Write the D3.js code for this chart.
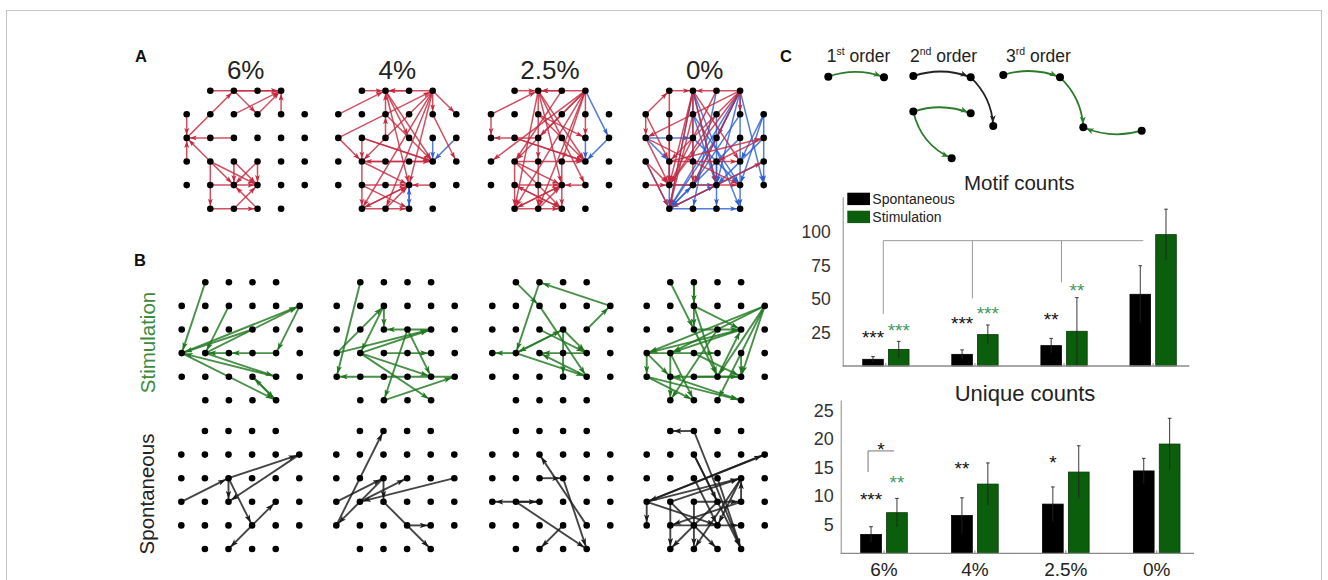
<!DOCTYPE html>
<html>
<head>
<meta charset="utf-8">
<script src="https://cdn.jsdelivr.net/npm/d3@7"></script>
<style>
body { margin: 0; background: #fff; }
text { font-family: "Liberation Sans", Arial, Helvetica, sans-serif; }
</style>
</head>
<body>
<script>
// ---------- data ----------
const percentLabels = ["6%", "4%", "2.5%", "0%"];
const seriesNames = ["Spontaneous", "Stimulation"];

// network edges: [fromCol, fromRow, toCol, toRow]
const redEdges = [
  [[1,0,4,0],[2,0,4,0],[2,0,3,1],[3,1,4,0],[2,1,4,0],[4,1,4,0],[0,2,2,0],[0,1,0,2],[2,2,0,2],[0,3,0,2],[1,3,0,2],
   [1,3,3,4],[1,3,2,4],[2,3,3,4],[3,3,2,4],[3,3,3,4],[2,3,2,4],[1,3,1,5],[1,4,3,4],[1,5,3,5],[2,5,3,4],[3,5,2,4]],
  [[1,0,2,0],[4,0,2,0],[3,0,2,0],[2,1,2,0],[0,1,2,0],[2,2,2,1],[0,2,4,0],[2,0,4,3],[2,0,3,4],[2,1,4,3],[4,0,1,5],
   [4,0,2,5],[4,0,1,3],[4,0,4,1],[4,0,5,1],[4,1,5,3],[0,2,1,3],[1,2,4,3],[1,2,4,3],[1,2,1,3],[1,3,4,3],[4,3,1,3],
   [1,3,1,5],[1,4,3,4],[4,4,3,4],[1,5,3,4],[3,4,1,5],[1,5,3,5],[2,5,3,4],[1,3,3,4],[1,4,3,5],[4,0,3,4],[2,0,3,2]],
  [[1,0,2,0],[4,0,2,0],[3,0,2,0],[0,1,2,0],[0,1,0,2],[2,2,0,2],[2,0,2,3],[2,0,4,3],[2,0,3,4],[2,0,1,5],[4,0,1,3],
   [4,0,0,3],[4,0,2,2],[4,0,1,5],[4,0,2,5],[4,0,4,2],[3,0,1,3],[2,1,4,3],[1,2,4,3],[1,2,4,3],[1,3,4,3],[1,3,3,4],
   [1,3,1,5],[1,4,3,4],[4,4,3,4],[1,5,3,4],[3,4,1,5],[1,5,3,5],[2,5,3,4],[1,4,3,5],[3,5,1,4],[1,3,3,5],[3,3,3,5],
   [2,3,2,5],[2,1,4,2],[2,0,4,4],[4,0,3,3]],
  [[1,0,2,0],[4,0,2,0],[0,1,1,0],[1,0,1,4],[0,1,0,2],[0,1,1,3],[0,2,1,4],[0,3,1,4],[2,0,1,5],[4,0,1,4],[2,0,4,3],
   [4,0,2,4],[1,3,4,3],[1,5,5,3],[5,2,3,3],[1,4,4,4],[2,1,1,5],[3,1,1,4],[0,4,1,4],[4,0,4,1],[2,0,3,4],
   [2,0,1,4],[4,0,1,3],[0,2,4,4],[1,3,5,2],[2,0,2,4],[3,0,1,4],[1,1,1,4],[0,3,1,5],[4,0,0,2]]
];
const blueEdges = [
  [],
  [[5,2,4,3],[4,2,4,3],[3,5,3,4],[3,4,3,5]],
  [[4,0,5,2],[5,2,4,3],[4,2,4,3]],
  [[0,2,2,2],[0,2,1,3],[2,0,1,5],[2,0,3,4],[2,0,4,5],[4,0,1,5],[4,0,2,4],[4,0,3,4],[4,0,5,4],[4,0,4,5],[4,0,3,2],
   [5,1,4,3],[5,1,5,4],[5,1,4,4],[3,0,2,5],[2,1,3,4],[2,1,4,4],[3,1,3,4],[1,5,4,5],[1,5,3,4],[1,5,2,4],[1,4,3,4],
   [1,3,1,5],[4,2,1,5],[5,2,3,4],[5,3,1,5],[2,2,4,4],[3,2,1,5],[4,1,2,4],[3,3,3,5],[2,0,2,3],[0,3,1,5]]
];
const stimEdges = [
  [[1,0,0,3],[0,3,5,1],[1,3,5,1],[5,1,4,3],[4,3,2,3],[2,3,1,3],[2,1,1,3],[3,2,0,3],[4,4,0,3],[0,3,4,5],[4,5,3,4],
   [3,4,4,5],[1,3,4,4]],
  [[1,0,0,4],[0,3,2,1],[2,1,1,3],[2,1,2,2],[4,2,2,2],[1,3,4,2],[0,3,4,2],[2,3,4,3],[1,3,4,4],[1,3,4,5],[3,2,2,5],
   [5,4,0,4],[2,5,5,4],[3,2,4,4]],
  [[1,0,2,1],[5,1,2,0],[2,0,1,3],[4,2,5,1],[1,3,0,3],[1,3,3,2],[3,2,1,3],[2,1,4,4],[3,2,3,4],[2,2,4,3],[4,3,2,3],
   [1,3,4,4],[4,4,2,3],[3,2,4,3]],
  [[1,0,2,2],[2,0,2,2],[2,0,2,1],[5,1,0,3],[5,1,1,3],[4,2,0,3],[4,2,1,3],[2,1,4,2],[5,1,3,4],[5,1,4,4],[5,1,3,5],
   [0,3,1,4],[0,4,4,5],[0,3,0,4],[1,3,2,5],[2,2,3,4],[4,3,4,4],[0,4,2,5],[1,4,4,5],[2,3,4,4],[3,2,1,5],[2,1,3,4],
   [4,4,1,4],[2,4,4,4],[0,3,3,3],[1,3,1,5],[2,2,4,2],[3,4,4,2]]
];
const spontEdges = [
  [[0,3,2,2],[2,2,5,1],[5,1,2,3],[2,2,2,3],[2,2,3,4],[3,4,4,3],[3,4,2,5]],
  [[0,4,2,0],[0,3,2,2],[5,2,1,3],[1,3,3,2],[2,2,2,3],[2,2,0,4],[2,3,4,5],[3,4,4,4]],
  [[2,3,0,3],[1,3,2,3],[1,3,4,5],[2,2,3,2],[3,2,4,5],[4,4,2,1],[3,4,2,5]],
  [[2,0,1,0],[2,0,4,5],[0,3,5,1],[5,1,0,3],[0,3,0,4],[1,3,1,5],[4,2,2,5],[2,1,4,5],[1,3,4,2],[2,3,2,5],[4,2,3,4],
   [4,3,4,2],[0,3,4,2],[1,3,3,5],[3,2,4,5],[4,3,1,4],[2,2,3,4],[0,3,3,4],[3,3,1,5],[2,3,4,3],[1,4,4,4],[2,1,3,3]]
];

// motif schematic (motif units) and arcs [from, to, bend, kind]
const motifNodes = [
  ["a1", 0, 0.16], ["b1", 5.33, 0.22],
  ["a2", 8.14, 0.1], ["b2", 13.63, 0.22], ["c2", 15.79, 4.88],
  ["d2", 8.14, 3.5], ["e2", 13.63, 3.67], ["f2", 11.81, 7.97],
  ["a3", 16.75, 0], ["b3", 22.18, 0.22], ["c3", 24.41, 5.0], ["d3", 30, 5.33]
];
const motifArcs = [
  ["a1","b1",0.18,"stim"], ["a2","b2",0.18,"spont"], ["b2","c2",0.2,"spont"],
  ["d2","e2",0.18,"stim"], ["d2","f2",-0.25,"stim"],
  ["a3","b3",0.18,"stim"], ["b3","c3",0.2,"stim"], ["d3","c3",0.18,"stim"]
];
const orderLabels = [["1","st"], ["2","nd"], ["3","rd"]];

// bar charts
const motifSpontMean = [5, 8.7, 15.2, 53.5];
const motifSpontSd = [2, 3.3, 5.4, 21.3];
const motifStimMean = [12.4, 23.4, 25.9, 98];
const motifStimSd = [6, 7.2, 25.1, 19];
const uniqueSpontMean = [3.3, 6.6, 8.6, 14.4];
const uniqueSpontSd = [1.35, 3.1, 3.0, 2.2];
const uniqueStimMean = [7.1, 12.1, 14.2, 19.1];
const uniqueStimSd = [2.5, 3.7, 4.6, 4.5];
const motifTicks = [25, 50, 75, 100];
const uniqueTicks = [5, 10, 15, 20, 25];
// [group, series, level, text]
const motifStars = [[0,0,23.9,"***"],[0,1,29.3,"***"],[1,0,34.8,"***"],[1,1,42.3,"***"],[2,0,38,"**"],[2,1,59.2,"**"]];
const uniqueStars = [[0,0,10.1,"***"],[0,1,13.1,"**"],[1,0,15.6,"**"],[2,0,16.5,"*"]];
const motifBracketLevel = 93.5;
const motifBracketDrops = [38.8, 50.5, 62.4];
const uniqueBracket = [17.9, 14.2, 18.9]; // bar level, drop level, star level

// ---------- drawing ----------
const W = 1328, H = 580;
const C = {
  red: "#c62a40", blue: "#2d5fd3", green: "#217821", black: "#1b1b1b",
  barGreen: "#0b5e0b", starGreen: "#3f9a5f", text: "#222", axis: "#8a8a8a"
};

const svg = d3.select("body").append("svg").attr("width", W).attr("height", H);
svg.append("rect").attr("x", 6.5).attr("y", 10.5).attr("width", 1315).attr("height", 600)
  .attr("fill", "none").attr("stroke", "#c4c4c4");

const defs = svg.append("defs");
function addMarker(id, color, len, wid, back) {
  defs.append("marker").attr("id", id)
    .attr("viewBox", `0 0 ${len} ${wid}`)
    .attr("refX", len + back).attr("refY", wid / 2)
    .attr("markerWidth", len).attr("markerHeight", wid)
    .attr("markerUnits", "userSpaceOnUse").attr("orient", "auto")
    .append("path").attr("d", `M0,0L${len},${wid / 2}L0,${wid}L${len * 0.25},${wid / 2}Z`)
    .attr("fill", color);
}
addMarker("arRed", C.red, 7, 5, 3);
addMarker("arBlue", C.blue, 7, 5, 3);
addMarker("arGreen", C.green, 8, 5.5, 3);
addMarker("arBlack", C.black, 8, 5.5, 3);
addMarker("mkGreen", "#2a7c2a", 7, 6, 3.5);
addMarker("mkBlack", "#222", 7, 6, 3.5);

// panel letters
[["A", 135, 61.5], ["B", 134, 266], ["C", 780, 62]].forEach(([t, x, y]) =>
  svg.append("text").attr("x", x).attr("y", y).attr("font-size", 16.5).attr("font-weight", "bold")
    .attr("fill", "#111").text(t));

// electrode grid (6x6 without corners)
const STEP = 23.6;
const gridNodes = [];
d3.range(6).forEach(r => d3.range(6).forEach(c => {
  if ((r === 0 || r === 5) && (c === 0 || c === 5)) return;
  gridNodes.push([c, r]);
}));

function drawNet(x0, y0, sets) {
  const gx = d3.scaleLinear().domain([0, 5]).range([x0, x0 + 5 * STEP]);
  const gy = d3.scaleLinear().domain([0, 5]).range([y0, y0 + 5 * STEP]);
  const g = svg.append("g");
  sets.forEach(s => {
    g.selectAll(null).data(s.edges).join("line")
      .attr("x1", d => gx(d[0])).attr("y1", d => gy(d[1]))
      .attr("x2", d => gx(d[2])).attr("y2", d => gy(d[3]))
      .attr("stroke", s.color).attr("stroke-width", s.width).attr("stroke-opacity", 0.82)
      .attr("marker-end", `url(#${s.marker})`);
  });
  g.selectAll("circle").data(gridNodes).join("circle")
    .attr("cx", d => gx(d[0])).attr("cy", d => gy(d[1])).attr("r", 3.3).attr("fill", "#000");
  return gx;
}

const aX = [186.7, 338.3, 491, 645.7];
const sX = [181.7, 336.7, 492.3, 646.7];
const pX = [181.3, 336.3, 492.3, 646.7];
percentLabels.forEach((lab, i) => {
  const gx = drawNet(aX[i], 90.7, [
    { edges: blueEdges[i], color: C.blue, width: 1.5, marker: "arBlue" },
    { edges: redEdges[i], color: C.red, width: 1.5, marker: "arRed" }
  ]);
  svg.append("text").attr("x", gx(2.5)).attr("y", 79.3).attr("text-anchor", "middle")
    .attr("font-size", 26).attr("fill", C.text).text(lab);
  drawNet(sX[i], 282.3, [{ edges: stimEdges[i], color: C.green, width: 1.9, marker: "arGreen" }]);
  drawNet(pX[i], 431, [{ edges: spontEdges[i], color: C.black, width: 1.9, marker: "arBlack" }]);
});

svg.append("text").attr("transform", "translate(155,342.5) rotate(-90)").attr("text-anchor", "middle")
  .attr("font-size", 20.5).attr("fill", "#3d8b3d").text("Stimulation");
svg.append("text").attr("transform", "translate(154,494) rotate(-90)").attr("text-anchor", "middle")
  .attr("font-size", 20.5).attr("fill", C.text).text("Spontaneous");

// ---------- motif schematic ----------
const mx = d3.scaleLinear().domain([0, 30]).range([828.3, 1141.7]);
const my = d3.scaleLinear().domain([0, 8]).range([75, 158.6]);
const mNode = new Map(motifNodes.map(d => [d[0], d]));
const mg = svg.append("g");
motifArcs.forEach(([a, b, bend, kind]) => {
  const p = mNode.get(a), q = mNode.get(b);
  const x1 = mx(p[1]), y1 = my(p[2]), x2 = mx(q[1]), y2 = my(q[2]);
  const dx = x2 - x1, dy = y2 - y1;
  const cx = (x1 + x2) / 2 + bend * dy, cy = (y1 + y2) / 2 - bend * dx;
  const path = d3.path();
  path.moveTo(x1, y1);
  path.quadraticCurveTo(cx, cy, x2, y2);
  mg.append("path").attr("d", path.toString()).attr("fill", "none")
    .attr("stroke", kind === "stim" ? "#2a7c2a" : "#222").attr("stroke-width", 1.8)
    .attr("marker-end", kind === "stim" ? "url(#mkGreen)" : "url(#mkBlack)");
});
mg.selectAll("circle").data(motifNodes).join("circle")
  .attr("cx", d => mx(d[1])).attr("cy", d => my(d[2])).attr("r", 4).attr("fill", "#000");
[826.7, 910, 1006].forEach((x, i) => {
  const t = svg.append("text").attr("x", x).attr("y", 61.7).attr("font-size", 17.5).attr("fill", C.text);
  t.append("tspan").text(orderLabels[i][0]);
  t.append("tspan").attr("font-size", 10.5).attr("dy", -6.5).text(orderLabels[i][1]);
  t.append("tspan").attr("dy", 6.5).text(" order");
});

// ---------- bar charts ----------
function barChart(o) {
  const y = d3.scaleLinear().domain([0, o.yMax]).range([o.yBottom, o.yTop]);
  const xg = d3.scaleBand().domain(percentLabels).range(o.band).paddingInner(o.padInner).paddingOuter(0);
  const xs = d3.scaleBand().domain(seriesNames).range([0, xg.bandwidth()]).paddingInner(0.2);
  const g = svg.append("g");

  const rows = [];
  percentLabels.forEach((p, i) => {
    rows.push({ p, s: seriesNames[0], m: o.spont[i], sd: o.spontSd[i] });
    rows.push({ p, s: seriesNames[1], m: o.stim[i], sd: o.stimSd[i] });
  });
  const cx = d => xg(d.p) + xs(d.s) + xs.bandwidth() / 2;

  g.selectAll("rect.bar").data(rows).join("rect").attr("class", "bar")
    .attr("x", d => xg(d.p) + xs(d.s)).attr("width", xs.bandwidth())
    .attr("y", d => y(d.m)).attr("height", d => y(0) - y(d.m))
    .attr("fill", d => d.s === "Spontaneous" ? "#000" : C.barGreen)
    .attr("stroke", d => d.s === "Spontaneous" ? "#000" : "#063806").attr("stroke-width", 0.8);

  g.selectAll("line.err").data(rows).join("line").attr("class", "err")
    .attr("x1", cx).attr("x2", cx)
    .attr("y1", d => y(Math.max(0, d.m - d.sd))).attr("y2", d => y(d.m + d.sd))
    .attr("stroke", "#222").attr("stroke-width", 0.9);
  g.selectAll("line.cap").data(rows).join("line").attr("class", "cap")
    .attr("x1", d => cx(d) - 1.8).attr("x2", d => cx(d) + 1.8)
    .attr("y1", d => y(d.m + d.sd)).attr("y2", d => y(d.m + d.sd))
    .attr("stroke", "#222").attr("stroke-width", 0.9);

  // axes
  const ya = g.append("g").attr("transform", `translate(${o.axisX},0)`)
    .call(d3.axisLeft(y).tickValues(o.ticks).tickSize(0).tickSizeOuter(0).tickPadding(o.tickPad));
  ya.select(".domain").attr("stroke", C.axis);
  ya.selectAll("text").attr("font-size", o.tickSize).attr("fill", "#333").attr("font-family", null);

  g.append("line").attr("x1", o.axisX).attr("x2", o.axisRight).attr("y1", y(0)).attr("y2", y(0))
    .attr("stroke", C.axis).attr("stroke-width", 1.3);
  const xa = g.append("g").attr("transform", `translate(0,${y(0)})`)
    .call(d3.axisBottom(xg).tickSizeInner(-3).tickSizeOuter(0).tickPadding(9.5)
      .tickFormat(o.showLabels ? (d => d) : ""));
  xa.select(".domain").remove();
  xa.selectAll("line").attr("stroke", C.axis);
  xa.selectAll("text").attr("font-size", 19).attr("fill", C.text).attr("font-family", null);

  // title
  g.append("text").attr("x", o.titleX).attr("y", o.titleY).attr("text-anchor", "middle")
    .attr("font-size", o.titleSize).attr("fill", C.text).text(o.title);

  // stars
  g.selectAll("text.star").data(o.stars).join("text").attr("class", "star")
    .attr("x", d => xg(percentLabels[d[0]]) + xs(seriesNames[d[1]]) + xs.bandwidth() / 2)
    .attr("y", d => y(d[2]) + 10.5).attr("text-anchor", "middle").attr("font-size", 19)
    .attr("fill", d => d[1] === 0 ? "#111" : C.starGreen).text(d => d[3]);

  return { y, xg, xs, g };
}

const motif = barChart({
  spont: motifSpontMean, spontSd: motifSpontSd, stim: motifStimMean, stimSd: motifStimSd,
  yMax: 126.3, yBottom: 366, yTop: 196.7, band: [862.7, 1176.3], padInner: 0.48,
  axisX: 842.7, axisRight: 1189.3, ticks: motifTicks, tickPad: 12, tickSize: 17.5, showLabels: false,
  title: "Motif counts", titleX: 1019.3, titleY: 190, titleSize: 20.5, stars: motifStars
});
const uniq = barChart({
  spont: uniqueSpontMean, spontSd: uniqueSpontSd, stim: uniqueStimMean, stimSd: uniqueStimSd,
  yMax: 26.8, yBottom: 553.3, yTop: 400, band: [860.7, 1180], padInner: 0.487,
  axisX: 840.7, axisRight: 1194, ticks: uniqueTicks, tickPad: 7, tickSize: 18, showLabels: true,
  title: "Unique counts", titleX: 1025, titleY: 401, titleSize: 22, stars: uniqueStars
});

// motif significance bracket
{
  const { y, xg, xs, g } = motif;
  const spontRight = i => xg(percentLabels[i]) + xs(seriesNames[0]) + xs.bandwidth();
  const x3 = xg(percentLabels[3]) + xs(seriesNames[0]) + xs.bandwidth() / 2 + 3;
  g.append("line").attr("x1", spontRight(0)).attr("x2", x3)
    .attr("y1", y(motifBracketLevel)).attr("y2", y(motifBracketLevel))
    .attr("stroke", "#999").attr("stroke-width", 1);
  motifBracketDrops.forEach((lv, i) =>
    g.append("line").attr("x1", spontRight(i)).attr("x2", spontRight(i))
      .attr("y1", y(motifBracketLevel)).attr("y2", y(lv)).attr("stroke", "#999").attr("stroke-width", 1));
}
// unique bracket between the two 6% bars
{
  const { y, xg, xs, g } = uniq;
  const c0 = xg(percentLabels[0]) + xs(seriesNames[0]) + xs.bandwidth() / 2 - 3;
  const c1 = xg(percentLabels[0]) + xs(seriesNames[1]) + xs.bandwidth() / 2 - 3;
  g.append("path").attr("d", `M${c0},${y(uniqueBracket[1])}V${y(uniqueBracket[0])}H${c1}`)
    .attr("fill", "none").attr("stroke", "#777").attr("stroke-width", 1);
  g.append("text").attr("x", (c0 + c1) / 2).attr("y", y(uniqueBracket[2]) + 10.5)
    .attr("text-anchor", "middle").attr("font-size", 19).attr("fill", "#111").text("*");
}

// legend
{
  const lg = svg.append("g");
  seriesNames.forEach((s, i) => {
    lg.append("rect").attr("x", 847.3).attr("y", 192.7 + i * 18).attr("width", 22.7).attr("height", 12.4)
      .attr("fill", i === 0 ? "#000" : C.barGreen);
    lg.append("text").attr("x", 872.3).attr("y", 204 + i * 18).attr("font-size", 14)
      .attr("fill", C.text).text(s);
  });
}
</script>
</body>
</html>
